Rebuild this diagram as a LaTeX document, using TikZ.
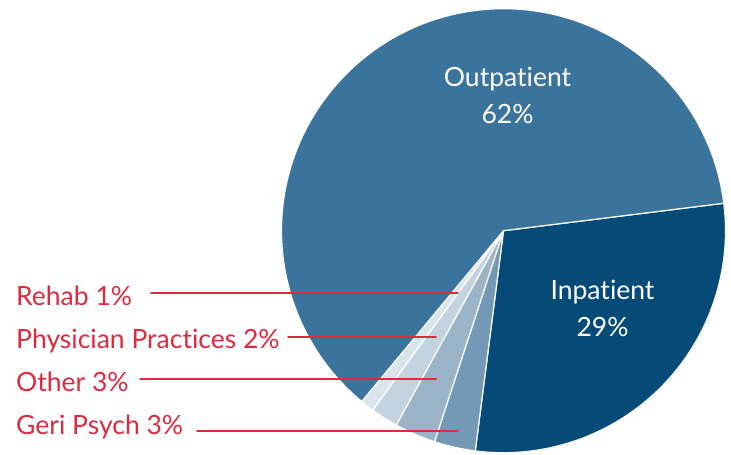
\documentclass[tikz,border=0pt]{standalone}
\usepackage{fontspec}
\setmainfont{Lato}[Ligatures=NoCommon]
\definecolor{outpt}{HTML}{3A739B}
\definecolor{inpt}{HTML}{064B78}
\definecolor{geri}{HTML}{7399B6}
\definecolor{other}{HTML}{9BB4C8}
\definecolor{phys}{HTML}{C3D3DF}
\definecolor{rehab}{HTML}{DAE4EB}
\definecolor{keyred}{HTML}{DE2A3E}
\begin{document}
\begin{tikzpicture}[x=1pt, y=-1pt, line join=round, line cap=round,
	slice/.style={draw=white, line width=1.2pt},
	lbl/.style={font=\fontsize{26.5}{37}\selectfont, text=white, align=center, inner sep=0pt},
	key/.style={font=\fontsize{26.5}{30}\selectfont, text=keyred, anchor=base west, inner sep=0pt},
	leader/.style={draw=keyred, line width=1.6pt}]
	\useasboundingbox (0,0) rectangle (731,455);
	\path (503.5,230.7) coordinate (O);
	\foreach \a/\b/\c in {-7.1/97.3/inpt, 97.3/108.1/geri, 108.1/118.9/other, 118.9/126.1/phys, 126.1/129.7/rehab, 129.7/352.9/outpt}{
		\draw [slice, fill=\c] (O) -- ++(\a:222) arc (\a:\b:222) -- cycle;
	}
	\node [lbl, anchor=base] (outLbl) at (507.5,123) {Outpatient\\62\%};
	\node [lbl, anchor=base] (inLbl) at (602.5,336) {Inpatient\\29\%};
	\foreach \n/\t/\b/\xa/\xb/\ly in {rehab/{Rehab 1\%}/305/151/458/293, phys/{Physician Practices 2\%}/348/288/436/337, other/{Other 3\%}/391/140/436/379, geri/{Geri Psych 3\%}/434/197/458/431}{
		\node [key] (\n Key) at (16,\b) {\t};
		\path (\xa,\ly) coordinate (\n A) (\xb,\ly) coordinate (\n B);
		\draw [leader] (\n A) -- (\n B);
	}
\end{tikzpicture}
\end{document}
